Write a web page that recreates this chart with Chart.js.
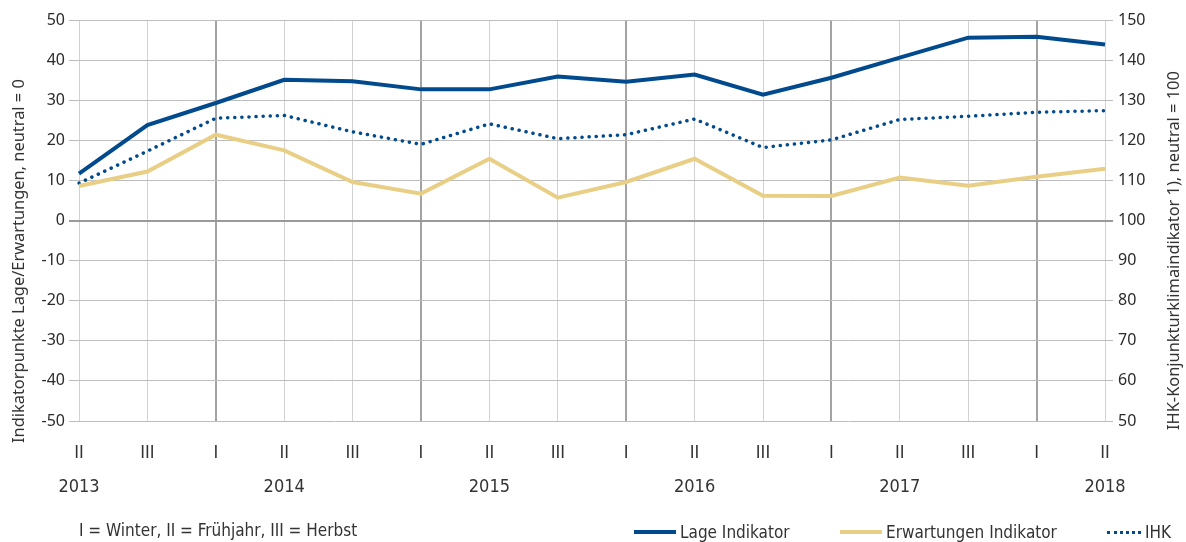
<!DOCTYPE html>
<html>
<head>
<meta charset="utf-8">
<script src="https://cdn.jsdelivr.net/npm/chart.js@4/dist/chart.umd.min.js"></script>
<style>
  html, body { margin: 0; padding: 0; background: #fff; }
  #wrap { position: relative; width: 1186px; height: 542px; }
  #c { position: absolute; left: 0; top: 0; }
  .note { position: absolute; font-family: "Liberation Sans Narrow", "DejaVu Sans Condensed", sans-serif; font-size: 17px; color: #333; white-space: nowrap; }
  .key { position: absolute; top: 522px; display: flex; align-items: center; font-family: "Liberation Sans Narrow", "DejaVu Sans Condensed", sans-serif; font-size: 17px; color: #333; white-space: nowrap; }
  .sw { display: inline-block; width: 42px; height: 0; margin-right: 4px; }
  .vtitle { position: absolute; font-family: "Noto Sans", sans-serif; font-size: 16.4px; line-height: 22px; color: #333; white-space: nowrap;
            transform-origin: left top; transform: rotate(-90deg); }
</style>
</head>
<body>
<div id="wrap">
  <canvas id="c" width="1186" height="542"></canvas>
  <div class="note" style="left:79px; top:520px;">I = Winter, II = Frühjahr, III = Herbst</div>
  <div class="key" style="left:634px;"><span class="sw" style="border-top:4px solid #004a8d;"></span>Lage Indikator</div>
  <div class="key" style="left:840px;"><span class="sw" style="border-top:4px solid #e9cf86;"></span>Erwartungen Indikator</div>
  <div class="key" style="left:1107px;"><span class="sw" style="width:34px; border-top:3px dotted #004a8d;"></span>IHK</div>
  <div class="vtitle" style="left:7px; top:443px;">Indikatorpunkte Lage/Erwartungen, neutral = 0</div>
  <div class="vtitle" style="left:1162px; top:430px;">IHK-Konjunkturklimaindikator 1), neutral = 100</div>
</div>
<script>
const seasons = ["II", "III", "I", "II", "III", "I", "II", "III", "I", "II", "III", "I", "II", "III", "I", "II"];
const years = ["2013", "", "", "2014", "", "", "2015", "", "", "2016", "", "", "2017", "", "", "2018"];
const lage = [11.7, 23.8, 29.3, 35.1, 34.7, 32.7, 32.7, 35.9, 34.6, 36.4, 31.4, 35.6, 40.6, 45.6, 45.8, 43.9];
const erwartungen = [8.6, 12.2, 21.4, 17.5, 9.6, 6.7, 15.4, 5.7, 9.6, 15.4, 6.2, 6.1, 10.7, 8.7, 10.9, 12.9];
const ihk = [109.3, 117.3, 125.5, 126.2, 122.1, 119.0, 124.1, 120.4, 121.4, 125.3, 118.2, 120.1, 125.2, 126.0, 127.0, 127.4];

const labels = seasons.map((s, i) => years[i] ? [s, years[i]] : s);

const blue = "#004a8d";
const sand = "#e9cf86";

new Chart(document.getElementById("c"), {
  type: "line",
  data: {
    labels: labels,
    datasets: [
      { label: "Lage Indikator", data: lage, yAxisID: "y", borderColor: blue, borderWidth: 4, pointRadius: 0, tension: 0 },
      { label: "Erwartungen Indikator", data: erwartungen, yAxisID: "y", borderColor: sand, borderWidth: 4, pointRadius: 0, tension: 0 },
      { label: "IHK", data: ihk, yAxisID: "y2", borderColor: blue, borderWidth: 3.5, borderDash: [0.1, 7], borderCapStyle: "round", pointRadius: 0, tension: 0 }
    ]
  },
  options: {
    responsive: false,
    animation: false,
    layout: { padding: { top: 20, left: 0, right: 0, bottom: 0 } },
    plugins: { legend: { display: false }, tooltip: { enabled: false } },
    scales: {
      x: {
        offset: false,
        afterFit: s => { s.height = 121; },
        border: { display: false },
        grid: {
          drawTicks: false,
          color: ctx => seasons[ctx.index] === "I" ? "#a3a3a3" : "#d2d2d2",
          lineWidth: ctx => seasons[ctx.index] === "I" ? 2 : 1
        },
        ticks: {
          maxRotation: 0, autoSkip: false, padding: 15, color: "#333",
          font: { family: "'Liberation Sans Narrow', 'DejaVu Sans Condensed', sans-serif", size: 18, lineHeight: 1.9 }
        }
      },
      y: {
        position: "left",
        min: -50, max: 50,
        afterFit: s => { s.width = 79; },
        border: { display: false },
        grid: {
          tickLength: 10,
          color: ctx => ctx.tick && ctx.tick.value === 0 ? "#9a9a9a" : "#bdbdbd",
          lineWidth: ctx => ctx.tick && ctx.tick.value === 0 ? 2 : 1
        },
        ticks: { stepSize: 10, padding: 4, color: "#2a2a2a", font: { family: "'Noto Sans', sans-serif", size: 16 } }
      },
      y2: {
        position: "right",
        min: 50, max: 150,
        afterFit: s => { s.width = 81; },
        border: { display: false },
        grid: {
          drawOnChartArea: false, tickLength: 8,
          color: ctx => ctx.tick && ctx.tick.value === 100 ? "#9a9a9a" : "#bdbdbd",
          lineWidth: ctx => ctx.tick && ctx.tick.value === 100 ? 2 : 1
        },
        ticks: { stepSize: 10, padding: 5, color: "#2a2a2a", font: { family: "'Noto Sans', sans-serif", size: 16 } }
      }
    }
  }
});
</script>
</body>
</html>
